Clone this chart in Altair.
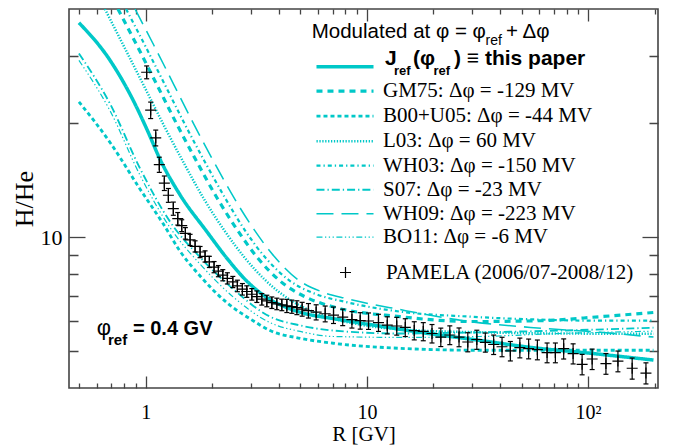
import altair as alt
import pandas as pd

# ---------------- PAMELA data ----------------
pamela_R = [1.01, 1.053, 1.11, 1.152, 1.214, 1.266, 1.333, 1.396, 1.455, 1.511,
            1.587, 1.672, 1.761, 1.855, 1.94, 2.037, 2.131, 2.231, 2.34, 2.476,
            2.597, 2.736, 2.864, 3.018, 3.18, 3.349, 3.528, 3.717, 3.915, 4.124,
            4.345, 4.577, 4.824, 5.096, 5.441, 5.896, 6.477, 7.064, 7.773, 8.555,
            9.327, 10.17, 11.28, 12.36, 13.64, 14.91, 16.37, 17.98, 19.69, 21.58,
            23.7, 26.09, 28.58, 31.4, 34.3, 37.41, 40.82, 44.51, 49.14, 53.85,
            58.97, 65.24, 71.12, 77.55, 85.55, 93.95, 104.3, 120.4, 136.4, 158.2, 182.6]
pamela_ratio = [27.24, 21.64, 18.29, 15.54, 13.89, 12.9, 11.9, 11.19, 10.73, 10.24,
                9.84, 9.46, 9.14, 8.9, 8.61, 8.34, 8.14, 7.94, 7.79, 7.62,
                7.44, 7.29, 7.19, 7.07, 6.97, 6.86, 6.79, 6.72, 6.67, 6.63,
                6.59, 6.56, 6.52, 6.46, 6.40, 6.34, 6.28, 6.23, 6.15, 6.06,
                6.02, 6.01, 5.95, 5.86, 5.83, 5.78, 5.67, 5.64, 5.57, 5.45,
                5.52, 5.45, 5.29, 5.37, 5.28, 5.21, 5.14, 5.01, 5.11, 5.08,
                5.05, 4.96, 4.96, 5.08, 4.93, 4.62, 4.77, 4.64, 4.71, 4.51, 4.38]
pamela_err_pct = [3.9, 5.0, 4.8, 4.6, 4.4, 4.2, 4.0, 3.8, 3.6, 3.5,
                  3.4, 3.4, 3.4, 3.4, 3.4, 3.4, 3.4, 3.4, 3.4, 3.4,
                  3.5, 3.5, 3.5, 3.5, 3.5, 3.5, 3.5, 3.5, 3.5, 3.5,
                  4.0, 4.0, 4.2, 4.2, 4.4, 4.6, 4.8, 5.0, 5.0, 5.0,
                  5.0, 5.0, 5.2, 5.2, 5.4, 5.4, 5.5, 5.5, 5.6, 5.6,
                  5.7, 5.7, 5.8, 5.8, 5.8, 5.9, 5.9, 5.9, 6.0, 6.0,
                  6.0, 6.0, 6.0, 6.1, 6.1, 6.2, 6.2, 6.3, 6.3, 6.4, 6.4]
pamela_label = "PAMELA (2006/07-2008/12)"

# ---------------- model curves ----------------
jref_label = "J_ref (this paper)"
model_labels = [jref_label,
                "GM75: Δφ = -129 MV",
                "B00+U05: Δφ = -44 MV",
                "L03: Δφ = 60 MV",
                "WH03: Δφ = -150 MV",
                "S07: Δφ = -23 MV",
                "WH09: Δφ = -223 MV",
                "BO11: Δφ = -6 MV"]

jref_R = [0.499, 0.690, 0.876, 1.014, 1.161, 1.430, 1.888, 2.325, 2.864, 3.528,
          4.345, 5.352, 7.039, 10.35, 17.43, 32.56, 54.82, 102.4, 197.5]
jref_ratio = [36.8, 29.28, 23.02, 19.22, 16.05, 12.93, 10.35, 8.81, 7.66, 6.93,
              6.52, 6.27, 6.10, 5.88, 5.61, 5.34, 5.12, 4.94, 4.74]

gm75_R = [0.749, 0.913, 1.125, 1.386, 1.707, 2.102, 2.589, 3.189, 4.053, 5.258,
          7.039, 14.15, 29.34, 60.84, 113.7, 197.5]
gm75_ratio = [40.0, 32.04, 25.2, 19.81, 15.77, 12.69, 10.47, 8.85, 7.66, 6.96,
              6.55, 6.17, 5.99, 6.02, 6.17, 6.33]

b00_R = [0.499, 0.690, 0.942, 1.198, 1.430, 1.761, 2.333, 3.059, 3.651, 4.991,
         7.039, 14.15, 32.56, 74.96, 197.5]
b00_ratio = [22.75, 17.78, 13.40, 10.86, 9.18, 7.90, 6.71, 6.02, 5.67, 5.41,
             5.25, 5.09, 5.03, 5.03, 5.03]

l03_R = [0.654, 0.806, 0.993, 1.223, 1.506, 1.855, 2.285, 2.814, 3.466, 4.498,
         6.147, 9.327, 17.43, 32.56, 74.96, 197.5]
l03_ratio = [40.0, 31.47, 24.75, 19.45, 15.48, 12.47, 10.35, 8.80, 7.71, 6.83,
             6.25, 5.88, 5.67, 5.61, 5.57, 5.56]

wh03_R = [0.815, 0.993, 1.223, 1.506, 1.855, 2.285, 2.814, 3.466, 4.498, 5.836,
          7.976, 14.15, 29.34, 60.84, 113.7, 197.5]
wh03_ratio = [40.0, 32.04, 25.2, 19.81, 15.77, 12.69, 10.41, 8.85, 7.66, 7.09,
              6.75, 6.36, 6.17, 6.06, 6.02, 6.02]

s07_R = [0.499, 0.690, 0.942, 1.288, 1.761, 2.483, 3.651, 4.991, 7.039, 14.15,
         32.56, 74.96, 197.5]
s07_ratio = [30.54, 22.48, 15.2, 10.99, 8.85, 7.30, 6.17, 5.85, 5.67, 5.57,
             5.61, 5.67, 5.77]

wh09_R = [0.895, 1.090, 1.343, 1.654, 2.037, 2.509, 3.090, 3.806, 4.837, 6.276,
          8.145, 14.15, 27.28, 54.82, 113.7, 197.5]
wh09_ratio = [40.0, 32.04, 25.2, 19.81, 15.77, 12.69, 10.47, 8.90, 7.75, 7.17,
              6.88, 6.44, 6.02, 5.78, 5.61, 5.45]

bo11_R = [0.499, 0.690, 0.942, 1.288, 1.761, 2.483, 3.651, 4.991, 7.039, 14.15,
          32.56, 74.96, 197.5]
bo11_ratio = [29.28, 21.55, 14.58, 10.6, 8.49, 6.96, 5.95, 5.64, 5.47, 5.44,
              5.47, 5.57, 5.65]

curve_sets = [(jref_R, jref_ratio), (gm75_R, gm75_ratio), (b00_R, b00_ratio),
              (l03_R, l03_ratio), (wh03_R, wh03_ratio), (s07_R, s07_ratio),
              (wh09_R, wh09_ratio), (bo11_R, bo11_ratio)]

# axis ticks
x_ticks = [0.5, 0.6, 0.7, 0.8, 0.9, 1, 2, 3, 4, 5, 6, 7, 8, 9, 10,
           20, 30, 40, 50, 60, 70, 80, 90, 100, 200]
y_ticks = [5, 6, 7, 8, 9, 10, 20, 30]

# ---------------- tables ----------------
rows = []
for lab, (rs, vs) in zip(model_labels, curve_sets):
    for i, (r, v) in enumerate(zip(rs, vs)):
        rows.append({"model": lab, "R": r, "ratio": v, "i": i})
curves = pd.DataFrame(rows)

pam = pd.DataFrame({"R": pamela_R, "ratio": pamela_ratio, "err": pamela_err_pct})
pam["lo"] = pam["ratio"] * (1 - pam["err"] / 100.0)
pam["hi"] = pam["ratio"] * (1 + pam["err"] / 100.0)
pam["series"] = pamela_label
caps = pd.concat([pam[["R"]].assign(y=pam["lo"]), pam[["R"]].assign(y=pam["hi"])])

# ---------------- styles ----------------
CYAN = "#00c8c8"
FRAME = "#444444"
SERIF = "Liberation Serif"
SANS = "Liberation Sans"
dashes = [[1, 0], [6, 5], [4, 3], [1.3, 1.6], [4, 3, 1.3, 3], [8, 3, 1.3, 3],
          [17, 8], [6, 2.5, 1.3, 2.5, 1.3, 2.5, 1.3, 2.5]]
widths = [3.5, 1.2, 1.2, 1.2, 1.2, 1.2, 1.2, 1.2]

xscale = alt.Scale(type="log", domain=[0.45, 207], nice=False)
yscale = alt.Scale(type="log", domain=[4, 40], nice=False)

x_major = "datum.value == 1 || datum.value == 10 || datum.value == 100"
y_major = "datum.value == 10"
xdash = {"condition": {"test": x_major, "value": [12, 0]}, "value": [0, 7, 5, 0]}
ydash = {"condition": {"test": y_major, "value": [16, 0]}, "value": [0, 7, 9, 0]}

common_axis = dict(domain=False, grid=False, tickColor=FRAME, tickWidth=1.3,
                   labelOverlap=False, labelFlush=False, labelBound=False)

x_bottom = alt.Axis(orient="bottom", values=x_ticks, offset=-12, tickSize=12, tickDash=xdash,
                    labelExpr="datum.value == 1 ? '1' : datum.value == 10 ? '10' : datum.value == 100 ? '10²' : ''",
                    labelFont=SERIF, labelFontSize=20, labelColor="black", labelPadding=14,
                    title="R [GV]", titleFont=SERIF, titleFontSize=21, titleFontWeight="normal",
                    titleColor="black", titlePadding=1, **common_axis)
x_top = alt.Axis(orient="top", values=x_ticks, offset=-12, tickSize=12, tickDash=xdash,
                 labels=False, title=None, **common_axis)
y_left = alt.Axis(orient="left", values=y_ticks, offset=-16, tickSize=16, tickDash=ydash,
                  labelExpr="datum.value == 10 ? '10' : ''",
                  labelFont=SERIF, labelFontSize=22, labelColor="black", labelPadding=7,
                  title="H/He", titleFont=SERIF, titleFontSize=26, titleFontWeight="normal",
                  titleColor="black", titlePadding=3, **common_axis)
y_right = alt.Axis(orient="right", values=y_ticks, offset=-16, tickSize=16, tickDash=ydash,
                   labels=False, title=None, **common_axis)

line_legend = alt.Legend(orient="none", legendX=261, legendY=42.7, title=None,
                         symbolType="M-2.22,0L2.22,0", symbolSize=660, padding=0,
                         rowPadding=-2.9, labelOffset=23, labelFont=SERIF, labelFontSize=21,
                         labelColor="black", labelLimit=500,
                         labelExpr="datum.label == '" + jref_label + "' ? '' : datum.label")

# ---------------- layers ----------------
lines = alt.Chart(curves).mark_line(clip=True, interpolate="monotone").encode(
    x=alt.X("R:Q", scale=xscale, axis=x_bottom),
    y=alt.Y("ratio:Q", scale=yscale, axis=y_left),
    color=alt.Color("model:N", scale=alt.Scale(domain=model_labels, range=[CYAN] * 8),
                    legend=line_legend),
    strokeDash=alt.StrokeDash("model:N", scale=alt.Scale(domain=model_labels, range=dashes),
                              legend=line_legend),
    strokeWidth=alt.StrokeWidth("model:N", scale=alt.Scale(domain=model_labels, range=widths),
                                legend=line_legend),
    order="i:Q",
)

errbars = alt.Chart(pam).mark_rule(clip=True, color="black", strokeWidth=1.2).encode(
    x=alt.X("R:Q", scale=xscale, axis=None),
    y=alt.Y("lo:Q", scale=yscale, axis=None),
    y2="hi:Q",
)

capmarks = alt.Chart(caps).mark_point(clip=True, shape="M-1,0L1,0", size=25, filled=False,
                                      stroke="black", strokeWidth=1.2, opacity=1).encode(
    x=alt.X("R:Q", scale=xscale, axis=None),
    y=alt.Y("y:Q", scale=yscale, axis=None),
)

cross = "M-1,0L1,0M0,-1L0,1"
points = alt.Chart(pam).mark_point(clip=True, size=121, filled=False, stroke="black",
                                   strokeWidth=1.2, opacity=1).encode(
    x=alt.X("R:Q", scale=xscale, axis=x_top),
    y=alt.Y("ratio:Q", scale=yscale, axis=y_right),
    shape=alt.Shape("series:N", scale=alt.Scale(domain=[pamela_label], range=[cross]),
                    legend=alt.Legend(orient="none", legendX=266, legendY=253, title=None,
                                      symbolSize=121, symbolStrokeColor="black",
                                      symbolStrokeWidth=1.2, symbolFillColor="transparent",
                                      padding=0, labelOffset=30, labelFont=SERIF,
                                      labelFontSize=21, labelColor="black", labelLimit=500)),
)


def txt(s, x, y, size, weight="normal", font=SANS):
    return alt.Chart(pd.DataFrame({"t": [s]})).mark_text(
        align="left", baseline="alphabetic", font=font, fontSize=size,
        fontWeight=weight, color="black").encode(
        x=alt.value(x), y=alt.value(y), text="t:N")


texts = [
    txt("Modulated at φ = φ", 242.7, 29.3, 20.5),
    txt("ref", 416.5, 35.5, 14),
    txt("+ Δφ", 437, 29.3, 20.5),
    txt("J", 316, 56, 21, "bold"),
    txt("ref", 325, 66, 13, "bold"),
    txt("(φ", 344, 56, 21, "bold"),
    txt("ref", 364.5, 66, 13, "bold"),
    txt(") ≡ this paper", 385, 56, 21, "bold"),
    txt("φ", 27.7, 326, 22),
    txt("ref", 39, 336, 15, "bold"),
    txt("= 0.4 GV", 64, 326, 20, "bold"),
]

chart = alt.layer(lines, errbars, capmarks, points, *texts).resolve_axis(
    x="independent", y="independent"
).properties(
    width=589, height=379,
    padding={"left": 61, "top": 1, "right": 14, "bottom": 58},
    autosize=alt.AutoSizeParams(type="none"),
    background="white",
).configure_view(stroke=FRAME, strokeWidth=1.6)

chart.save("out.html", embed_options={"renderer": "svg", "actions": False})
